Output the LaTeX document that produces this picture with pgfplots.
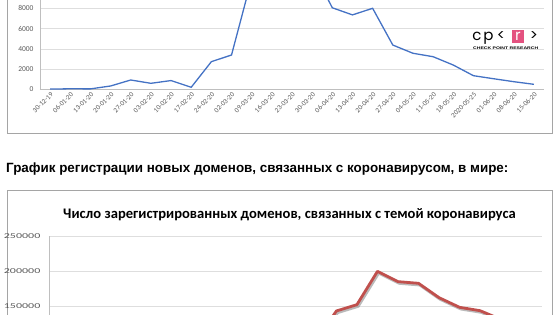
\documentclass[border=0pt]{standalone}
\usepackage{fontspec}
\setmainfont{Liberation Sans}
\newfontfamily\calibri{Carlito}
\newfontfamily\poppins{Poppins}
\usepackage{pgfplots}
\pgfplotsset{compat=1.18}
\definecolor{lineblue}{RGB}{68,114,196}
\definecolor{linered}{RGB}{192,80,77}
\definecolor{gridgray}{RGB}{222,222,222}
\definecolor{axisgray}{RGB}{191,191,191}
\definecolor{labelgray}{RGB}{89,89,89}
\definecolor{framegray}{RGB}{165,165,165}
\definecolor{cppink}{RGB}{228,82,128}
\begin{document}
\begin{tikzpicture}
% frames
\draw[framegray, line width=0.8pt] (7.5pt,10pt) -- (7.5pt,-133.3pt) -- (552.7pt,-133.3pt) -- (552.7pt,10pt);
\draw[framegray, line width=0.8pt] (7.5pt,-340pt) -- (7.5pt,-190.7pt) -- (552.7pt,-190.7pt) -- (552.7pt,-340pt);

% top chart
\begin{axis}[
  at={(40pt,-89.5pt)}, anchor=south west, scale only axis,
  width=504pt, height=101.5pt,
  xmin=-0.5, xmax=24.5, ymin=0, ymax=10000,
  xtick={0,...,24},
  xticklabels={30-12-19,06-01-20,13-01-20,20-01-20,27-01-20,03-02-20,10-02-20,17-02-20,24-02-20,02-03-20,09-03-20,16-03-20,23-03-20,30-03-20,06-04-20,13-04-20,20-04-20,27-04-20,04-05-20,11-05-20,18-05-20,2020-05-25,01-06-20,08-06-20,15-06-20},
  ytick={0,2000,4000,6000,8000,10000},
  ymajorgrids, grid style={color=gridgray, line width=0.7pt},
  axis lines*=left, axis line style={-, draw=axisgray, line width=0.7pt},
  major tick length=0pt,
  /pgf/number format/assume math mode=true,
  /pgf/number format/fixed,
  /pgf/number format/precision=0,
  /pgf/number format/1000 sep={},
  scaled y ticks=false,
  tick label style={font=\calibri\fontsize{7.5}{8}\selectfont, text=labelgray},
  yticklabel style={xshift=-3pt},
  xticklabel style={xshift=2pt, yshift=-4pt, rotate=45, anchor=east, inner sep=0pt, font=\calibri\fontsize{7}{7}\selectfont},
]
\addplot[lineblue, line width=1.3pt] coordinates {
(0,40) (1,70) (2,60) (3,345) (4,936) (5,610) (6,880) (7,217) (8,2740) (9,3400)
(10,10900) (11,14000) (12,15000) (13,11900) (14,8050) (15,7350) (16,8000)
(17,4380) (18,3570) (19,3230) (20,2410) (21,1360) (22,1060) (23,770) (24,510)};
\end{axis}

% logo
\node[anchor=base, inner sep=0, font=\poppins\fontsize{15}{15}\selectfont] at (477pt,-40.5pt) {c};
\node[anchor=base, inner sep=0, font=\poppins\fontsize{15}{15}\selectfont] at (488.5pt,-40.5pt) {p};
\node[anchor=base, inner sep=0, font=\poppins\fontsize{15}{15}\selectfont] at (501pt,-40.5pt) {<};
\fill[cppink] (512pt,-30pt) rectangle (524pt,-43pt);
\node[anchor=base, inner sep=0, text=white, font=\poppins\fontsize{15}{15}\selectfont] at (518pt,-40.5pt) {r};
\node[anchor=base, inner sep=0, font=\poppins\fontsize{15}{15}\selectfont] at (534pt,-40.5pt) {>};
\node[anchor=west, inner sep=0] at (473pt,-48.3pt) {\resizebox{65pt}{2.6pt}{\bfseries CHECK POINT RESEARCH}};

% heading
\node[anchor=base west, inner sep=0] at (6pt,-173pt) {\fontsize{13.4}{15}\selectfont\bfseries График регистрации новых доменов, связанных с коронавирусом, в мире:};

% bottom title
\node[anchor=base west, inner sep=0] at (63pt,-218.3pt) {\calibri\bfseries\fontsize{14.6}{16}\selectfont Число зарегистрированных доменов, связанных с темой коронавируса};

% bottom chart
\begin{axis}[
  at={(49pt,-411pt)}, anchor=south west, scale only axis,
  width=492.7pt, height=175pt,
  xmin=0, xmax=24, ymin=0, ymax=250000,
  xtick=\empty,
  ytick={0,50000,100000,150000,200000,250000},
  ymajorgrids, grid style={color=gridgray, line width=0.7pt},
  axis lines*=left, axis line style={-, draw=axisgray, line width=0.7pt},
  major tick length=0pt,
  /pgf/number format/assume math mode=true,
  /pgf/number format/fixed,
  /pgf/number format/precision=0,
  /pgf/number format/1000 sep={},
  scaled y ticks=false,
  yticklabel style={font=\calibri\fontsize{7.5}{8}\selectfont, text=labelgray, xshift=-3pt, xscale=1.6, anchor=east},
]
\addplot[black!45, opacity=0.6, line width=3pt, xshift=1.2pt, yshift=-1.6pt, forget plot] coordinates {
(0,2000) (1,2500) (2,3000) (3,5000) (4,8000) (5,9000) (6,12000) (7,15000) (8,30000) (9,60000)
(10,90000) (11,110000) (12,120000) (13,100000) (14,142900) (15,151900) (16,199500) (17,184800)
(18,182400) (19,161900) (20,148100) (21,143300) (22,131000) (23,115000) (24,100000)};
\addplot[linered, line width=2.8pt, line join=round] coordinates {
(0,2000) (1,2500) (2,3000) (3,5000) (4,8000) (5,9000) (6,12000) (7,15000) (8,30000) (9,60000)
(10,90000) (11,110000) (12,120000) (13,100000) (14,142900) (15,151900) (16,199500) (17,184800)
(18,182400) (19,161900) (20,148100) (21,143300) (22,131000) (23,115000) (24,100000)};
\end{axis}

\pgfresetboundingbox
\path[use as bounding box] (0pt,0pt) rectangle (560pt,-315pt);
\end{tikzpicture}
\end{document}
